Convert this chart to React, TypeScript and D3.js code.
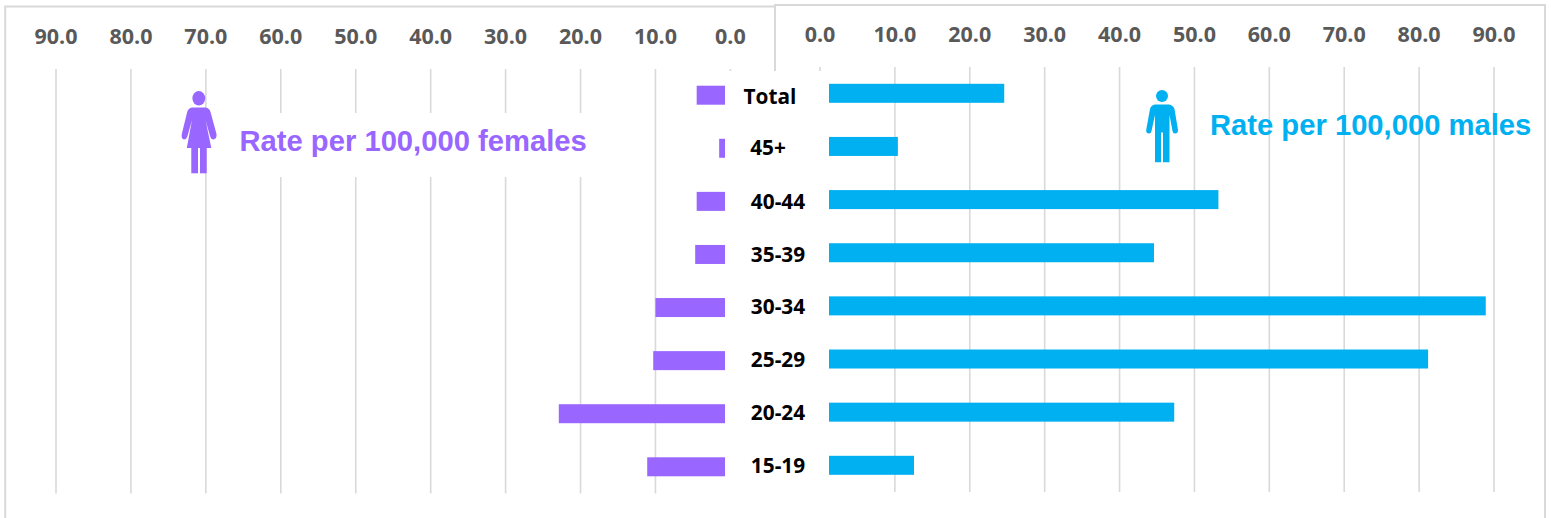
import React from "react";
import * as d3 from "d3";

const categories = ["Total", "45+", "40-44", "35-39", "30-34", "25-29", "20-24", "15-19"];
const femaleRates = [4.5, 1.5, 4.5, 4.7, 10.0, 10.3, 22.9, 11.1];
const maleRates = [24.6, 10.4, 53.2, 44.6, 88.9, 81.2, 47.3, 12.55];
const tickValues = [0, 10, 20, 30, 40, 50, 60, 70, 80, 90];
const labelDx = [-8, -10, 0, 0, 0, 0, 0, 0];
const labelDy = [1.8, 0, 0.6, 0.8, 0, 0, 0, 0];

const PURPLE = "#9966ff";
const BLUE = "#00b0f0";
const GRID = "#d9d9d9";
const TICK = "#595959";

const xF = d3.scaleLinear().domain([0, 90]).range([730.4, 56]);
const xM = d3.scaleLinear().domain([0, 90]).range([820, 1494]);
const yF = d3.scalePoint<string>().domain(categories).range([95.2, 466.8]);
const yM = d3.scalePoint<string>().domain(categories).range([93.3, 465.3]);
const yL = d3.scalePoint<string>().domain(categories).range([95, 465.5]);
const BAR_H = 19;

const tickFont = { fontFamily: "'Open Sans', sans-serif", fontWeight: 700, fontSize: 21.5 };
const captionFont = { fontFamily: "'Liberation Sans', sans-serif", fontWeight: 700, fontSize: 29.2 };

function Female() {
  return (
    <g fill={PURPLE}>
      <ellipse cx={198.8} cy={98.3} rx={6.4} ry={7.2} />
      <path d="M192 107.6 L205.5 107.6 Q209.5 108.5 210.5 112 L216.5 134 Q217 138.5 213.6 139.5 Q211 139.5 210 136 L205.5 120 L211.3 148 L186.8 148 L192 120 L187.5 136 Q186.5 139.5 183.8 139.5 Q181 138.5 181.8 134 L187.2 112 Q188.2 108.5 192 107.6 Z" />
      <rect x={191.3} y={148} width={6.7} height={25.3} />
      <rect x={200} y={148} width={6.7} height={25.3} />
    </g>
  );
}

function Male() {
  return (
    <g fill={BLUE}>
      <circle cx={1162} cy={96} r={6} />
      <path d="M1155 104.5 L1169 104.5 Q1173 105 1174.5 109 L1178 130 Q1178 133.5 1175 133.5 Q1173 133.5 1172.5 131 L1169.5 115 L1169.5 162.3 L1163 162.3 L1163 132.5 L1161 132.5 L1161 162.3 L1155 162.3 L1155 115 L1151.5 131 Q1151 133.5 1149 133.5 Q1146 133.5 1146.2 130 L1150 109 Q1151 105 1155 104.5 Z" />
    </g>
  );
}

export default function App() {
  return (
    <div style={{ position: "absolute", left: 0, top: 0 }}>
      <svg width={1551} height={518} style={{ display: "block", background: "#fff" }}>
        {/* panel borders */}
        <path d="M5.2 518 V6.5 H775" fill="none" stroke={GRID} strokeWidth={2} />
        <path d="M775 71 V5 H1545 V518" fill="none" stroke={GRID} strokeWidth={2} />

        {/* gridlines */}
        {tickValues.map((t) => (
          <line key={"gf" + t} x1={xF(t)} x2={xF(t)} y1={69} y2={493.5} stroke={GRID} strokeWidth={1.6} />
        ))}
        {tickValues.map((t) => (
          <line key={"gm" + t} x1={xM(t)} x2={xM(t)} y1={67} y2={492} stroke={GRID} strokeWidth={1.6} />
        ))}

        {/* tick labels */}
        {tickValues.map((t) => (
          <text key={"tf" + t} x={xF(t)} y={44} textAnchor="middle" fill={TICK} style={tickFont}>
            {t.toFixed(1)}
          </text>
        ))}
        {tickValues.map((t) => (
          <text key={"tm" + t} x={xM(t)} y={42.3} textAnchor="middle" fill={TICK} style={tickFont}>
            {t.toFixed(1)}
          </text>
        ))}

        {/* bars */}
        {categories.map((c, i) => (
          <rect key={"bf" + c} x={xF(femaleRates[i])} width={xF(0) - xF(femaleRates[i])} y={yF(c)! - BAR_H / 2} height={BAR_H} fill={PURPLE} />
        ))}
        {categories.map((c, i) => (
          <rect key={"bm" + c} x={xM(0)} width={xM(maleRates[i]) - xM(0)} y={yM(c)! - BAR_H / 2} height={BAR_H} fill={BLUE} />
        ))}

        {/* white label column and female caption backing */}
        <rect x={725} y={71} width={104} height={447} fill="#fff" />
        <rect x={228} y={113} width={372} height={64} fill="#fff" />

        {/* category labels */}
        {categories.map((c, i) => (
          <text
            key={"l" + c}
            x={778 + labelDx[i]}
            y={yL(c)! + labelDy[i]}
            dy="0.36em"
            textAnchor="middle"
            fill="#000"
            style={{ fontFamily: "'Open Sans', sans-serif", fontWeight: 700, fontSize: 20.8 }}
          >
            {c}
          </text>
        ))}

        <Female />
        <Male />
        <text x={239.5} y={151} fill={PURPLE} style={captionFont}>
          Rate per 100,000 females
        </text>
        <text x={1210} y={134.5} fill={BLUE} style={captionFont}>
          Rate per 100,000 males
        </text>
      </svg>
    </div>
  );
}
